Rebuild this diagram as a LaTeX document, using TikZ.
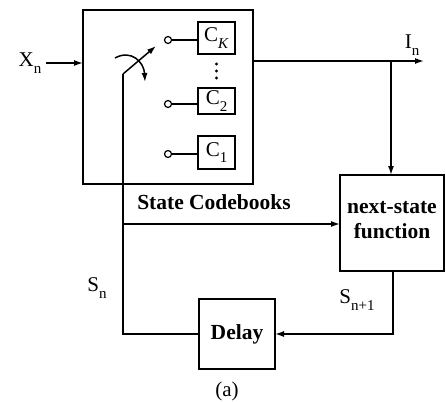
\documentclass[tikz,border=0pt]{standalone}
\usepackage{fontspec}
\setmainfont{Liberation Serif}
\usetikzlibrary{arrows.meta}
\newcommand{\mysub}[1]{\raisebox{-0.3em}{\fontsize{15}{15}\selectfont #1}}
\begin{document}
\begin{tikzpicture}[x=1pt,y=-1pt,
  line width=1.5pt,
  box/.style={draw, inner sep=0pt, outer sep=0pt, anchor=north west},
  arr/.style={-{Latex[length=9pt,width=6pt]}},
  lbl/.style={font=\fontsize{21}{21}\selectfont, inner sep=0pt},
  blbl/.style={font=\fontsize{21.5}{25}\selectfont\bfseries, inner sep=0pt, align=center},
  port/.style={draw, circle, inner sep=0pt, minimum size=7pt, line width=1.2pt, fill=white}]
\useasboundingbox (0,0) rectangle (446,401);
% outer codebook box
\node[box, minimum width=170pt, minimum height=174pt] (cb) at (83,10) {};
% codebooks
\node[box, minimum width=37pt, minimum height=32pt] (ck) at (198,22) {};
\node[lbl] at (ck.center) {C\mysub{\textit{K}}};
\node[box, minimum width=37pt, minimum height=26pt] (c2) at (198,88) {};
\node[lbl] at (c2.center) {C\mysub{2}};
\node[box, minimum width=37pt, minimum height=33pt] (c1) at (198,136) {};
\node[lbl] at (c1.center) {C\mysub{1}};
% ports
\node[port] (pk) at (168,40) {};
\node[port] (p2) at (168,104) {};
\node[port] (p1) at (168,154) {};
\coordinate (ek) at (198,40);
\coordinate (e2) at (198,104);
\coordinate (e1) at (198,154);
\draw (pk) -- (ek);
\draw (p2) -- (e2);
\draw (p1) -- (e1);
% dots
\foreach \yy in {64,71,78} \fill (216.5,\yy) circle (1.7pt);
% switch
\coordinate (piv) at (123,74);
\coordinate (swtip) at (156,46);
\draw[arr] (piv) -- (swtip);
\coordinate (ca) at (115,58);
\coordinate (cz) at (145,82);
\draw[arr] (ca) .. controls (131,49) and (144,62) .. (cz);
% input
\node[lbl] (xn) at (30,63) {X\mysub{n}};
\draw[arr] (xn.east) ++(4pt,0) -- (83,63);
% next state
\node[box, minimum width=104pt, minimum height=96pt] (ns) at (340,175) {};
\node[blbl] at (ns.center) [yshift=3pt] {next-state\\function};
% output
\coordinate (oin) at (253,61);
\coordinate (oout) at (424,61);
\coordinate (br) at (391,61);
\draw[arr] (oin) -- (oout);
\node[lbl] (in) at (412,45) {I\mysub{n}};
\draw[arr] (br) -- (br |- ns.north);
% state codebooks label
\node[blbl] (sclbl) at (214,202) {State Codebooks};
% feedback
\node[box, minimum width=76pt, minimum height=70pt] (dl) at (199,299) {};
\node[blbl] at (dl.center) {Delay};
\coordinate (j1) at (123,224);
\coordinate (j2) at (123,334);
\draw (piv) -- (j2) -- (dl.west |- j2);
\draw[arr] (j1) -- (ns.west |- j1);
\coordinate (nsb) at (393,271);
\coordinate (nsc) at (393,334);
\draw[arr] (nsb) -- (nsc) -- (dl.east |- nsc);
\node[lbl] (sn) at (97,288) {S\mysub{n}};
\node[lbl] (sn1) at (357,300) {S\mysub{n+1}};
\node[lbl] (cap) at (227,391) {(a)};
\end{tikzpicture}
\end{document}
